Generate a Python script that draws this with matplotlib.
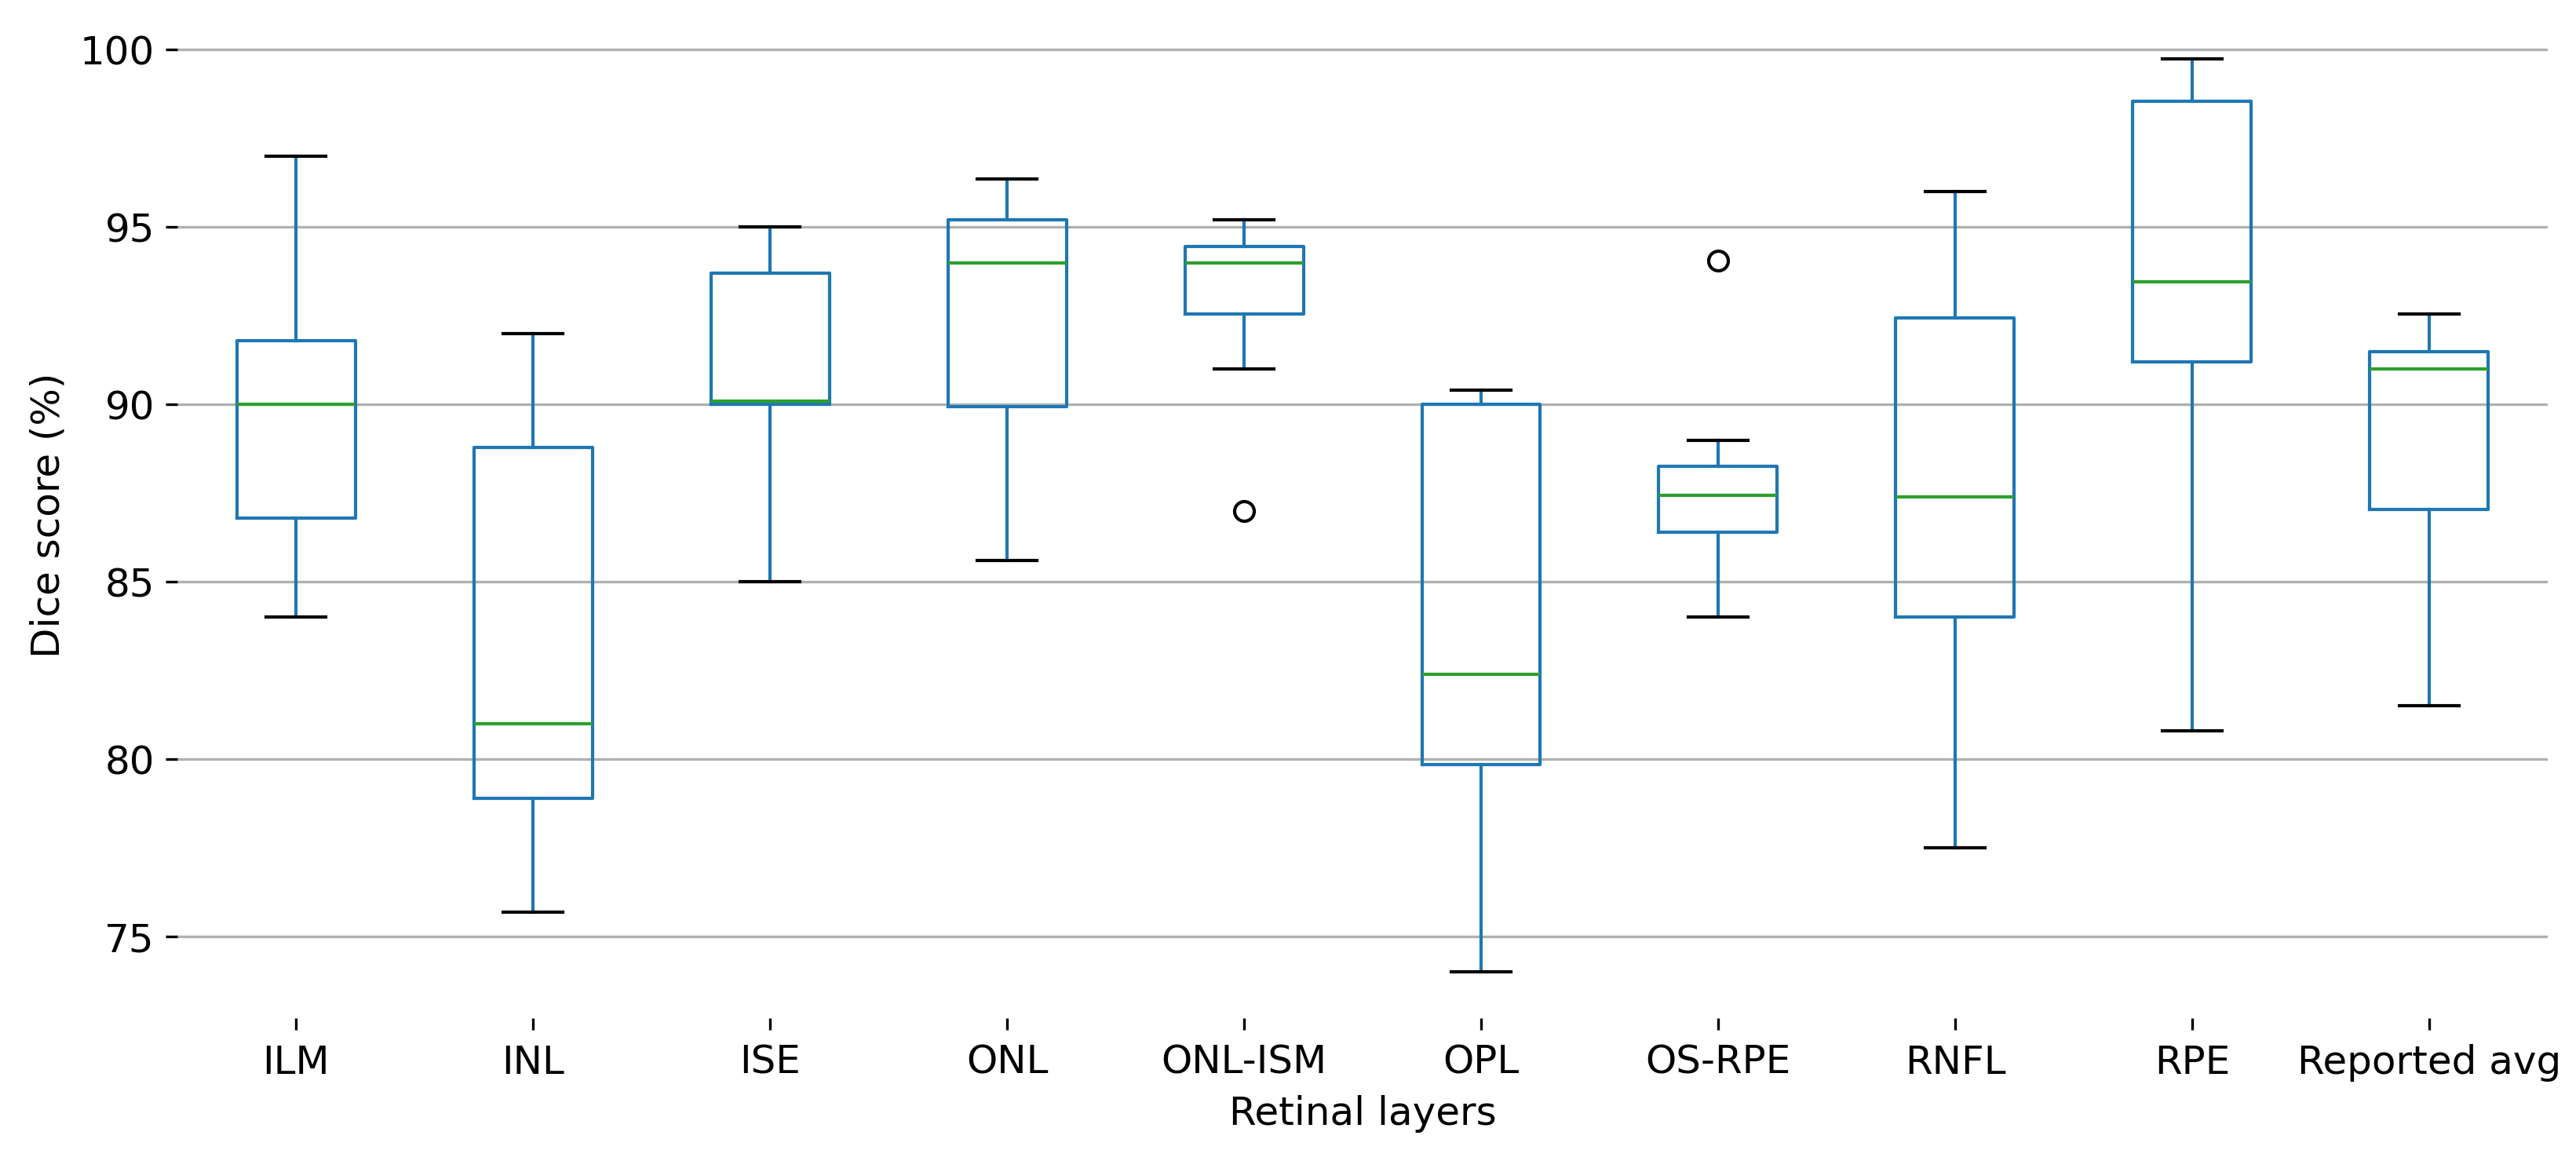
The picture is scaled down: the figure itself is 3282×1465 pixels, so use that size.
import matplotlib
matplotlib.use("Agg")
import matplotlib.pyplot as plt

# box summary values (Dice score in %)
layers = ["ILM", "INL", "ISE", "ONL", "ONL-ISM", "OPL", "OS-RPE", "RNFL", "RPE", "Reported avg"]
whis_lo = [84.0, 75.7, 85.0, 85.6, 91.0, 74.0, 84.0, 77.5, 80.8, 81.5]
q1 = [86.8, 78.9, 90.0, 89.95, 92.55, 79.85, 86.4, 84.0, 91.2, 87.05]
median = [90.0, 81.0, 90.1, 94.0, 94.0, 82.4, 87.45, 87.4, 93.47, 91.0]
q3 = [91.8, 88.8, 93.7, 95.2, 94.45, 90.0, 88.25, 92.45, 98.55, 91.5]
whis_hi = [97.0, 92.0, 95.0, 96.35, 95.2, 90.4, 89.0, 96.0, 99.75, 92.55]
outliers = [[], [], [], [], [87.0], [], [94.05], [], [], []]

stats = []
for i, name in enumerate(layers):
    stats.append({
        "label": name,
        "whislo": whis_lo[i],
        "q1": q1[i],
        "med": median[i],
        "q3": q3[i],
        "whishi": whis_hi[i],
        "fliers": outliers[i],
    })

fig = plt.figure(figsize=(3282 / 300, 1465 / 300), dpi=300)
ax = fig.add_axes([0.0689, 0.115, 0.9201, 0.8737])

ax.bxp(
    stats,
    boxprops=dict(color="#1f77b4"),
    whiskerprops=dict(color="#1f77b4"),
    medianprops=dict(color="#2ca02c"),
    capprops=dict(color="black"),
    flierprops=dict(marker="o", markerfacecolor="none", markeredgecolor="black"),
)

ax.set_xlim(0.5, len(layers) + 0.5)
ax.set_yticks([75, 80, 85, 90, 95, 100])
ax.tick_params(labelsize=12)
ax.tick_params(axis="x", pad=4.5)
ax.set_xlabel("Retinal layers", fontsize=12)
ax.set_ylabel("Dice score (%)", fontsize=12)
ax.grid(True, axis="y")
ax.set_axisbelow(True)
for side in ["top", "right", "bottom", "left"]:
    ax.spines[side].set_visible(False)

fig.savefig("out.png", dpi=300)
